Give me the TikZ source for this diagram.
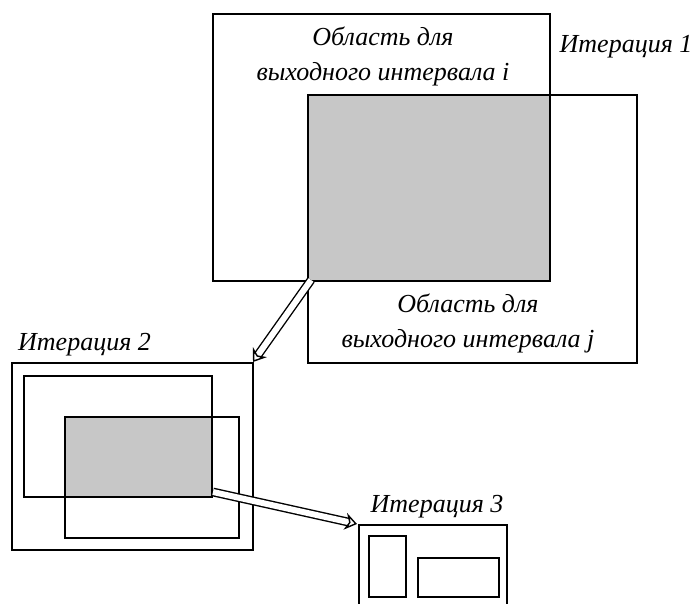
\documentclass[tikz,border=0pt]{standalone}
\usepackage{fontspec}
\setmainfont{Liberation Serif}
\usetikzlibrary{arrows.meta,positioning}

\tikzset{
  frame/.style={draw, line width=1.6pt},
  shade/.style={fill=black!22},
  lbl/.style={font=\fontsize{26}{35}\selectfont\itshape, align=center, inner sep=0pt},
  hollow/.style={double, double distance=6pt, line width=1.4pt,
    -{Stealth[open,length=12pt,width=17pt]}}
}

\begin{document}
\begin{tikzpicture}[x=1pt,y=-1pt]
\useasboundingbox (0,0) rectangle (698,604);

% iteration 1
\coordinate (ia) at (213,14);  \coordinate (ib) at (550,281);
\coordinate (ja) at (308,95);  \coordinate (jb) at (637,363);
\fill[shade] (ja) rectangle (ib);
\draw[frame] (ia) rectangle (ib);
\draw[frame] (ja) rectangle (jb);
\node[lbl] (ti) at (383,56) {Область для\\выходного интервала i};
\node[lbl] (tj) at (468,323) {Область для\\выходного интервала j};
\node[lbl] (it1) at (626,47) {Итерация 1};

% iteration 2
\coordinate (oa) at (12,363);  \coordinate (ob) at (253,550);
\coordinate (pa) at (24,376);  \coordinate (pb) at (212,497);
\coordinate (qa) at (65,417);  \coordinate (qb) at (239,538);
\fill[shade] (qa) rectangle (pb);
\draw[frame] (oa) rectangle (ob);
\draw[frame] (pa) rectangle (pb);
\draw[frame] (qa) rectangle (qb);
\node[lbl, anchor=west] (it2) at (18,345) {Итерация 2};

% iteration 3
\draw[frame] (359,604) -- (359,525) -- (507,525) -- (507,604);
\coordinate (ra) at (359,525);
\draw[frame] (369,536) rectangle (406,597);
\draw[frame] (418,558) rectangle (499,597);
\node[lbl] (it3) at (437,507) {Итерация 3};

% transitions
\coordinate (s1) at (311,280);  \coordinate (e1) at (253,362);
\coordinate (s2) at (213,492);  \coordinate (e2) at (357,524);
\draw[hollow] (s1) -- (e1);
\draw[hollow] (s2) -- (e2);
\end{tikzpicture}
\end{document}
